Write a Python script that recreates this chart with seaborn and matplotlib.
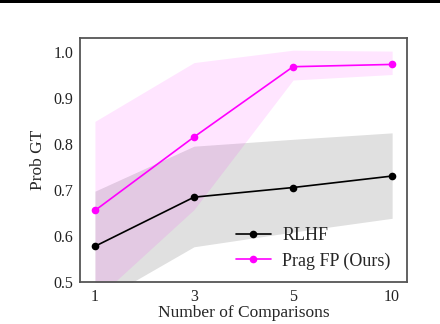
import matplotlib
matplotlib.use("Agg")
import matplotlib.pyplot as plt
from matplotlib.patches import Rectangle
import pandas as pd
import seaborn as sns

comparisons = ["1", "3", "5", "10"]
rlhf_mean = [0.577, 0.684, 0.705, 0.730]
rlhf_low = [0.452, 0.576, 0.608, 0.638]
rlhf_high = [0.697, 0.795, 0.810, 0.824]
prag_mean = [0.655, 0.815, 0.968, 0.973]
prag_low = [0.460, 0.657, 0.939, 0.951]
prag_high = [0.849, 0.977, 1.004, 1.002]

sns.set_style("white")
plt.rcParams["font.family"] = ["Liberation Serif", "DejaVu Serif"]

df = pd.DataFrame({
    "Number of Comparisons": comparisons * 2,
    "Prob GT": rlhf_mean + prag_mean,
    "method": ["RLHF"] * 4 + ["Prag FP (Ours)"] * 4,
})

fig = plt.figure(figsize=(4.4, 3.24), dpi=100)
ax = fig.add_axes([0.182, 0.1306, 0.743, 0.7514])

ax.fill_between(comparisons, rlhf_low, rlhf_high, color="black", alpha=0.12, lw=0)
ax.fill_between(comparisons, prag_low, prag_high, color="#ff00ff", alpha=0.1, lw=0)

sns.lineplot(data=df, x="Number of Comparisons", y="Prob GT", hue="method",
             palette={"RLHF": "black", "Prag FP (Ours)": "#ff00ff"},
             marker="o", markersize=5.5, markeredgewidth=0, linewidth=1.2, ax=ax)

ax.set_ylim(0.5, 1.03)
ax.set_xlim(-0.15, 3.15)
ax.set_yticks([0.5, 0.6, 0.7, 0.8, 0.9, 1.0])
ax.tick_params(length=0, labelsize=11.5, colors="#222222", pad=5)
ax.set_xlabel("Number of Comparisons", fontsize=12.5, labelpad=0)
ax.set_ylabel("Prob GT", fontsize=12.5, labelpad=5)
for s in ax.spines.values():
    s.set_color("#555555")
    s.set_linewidth(1.3)

ax.legend(title=None, loc="lower right", frameon=False, fontsize=13,
          handlelength=1.9, handletextpad=0.65, labelspacing=0.45,
          bbox_to_anchor=(1.0, -0.017))

fig.add_artist(Rectangle((0, 1 - 3 / 324), 1, 3 / 324, transform=fig.transFigure,
                         color="black", lw=0))

fig.savefig("out.png", dpi=100)
